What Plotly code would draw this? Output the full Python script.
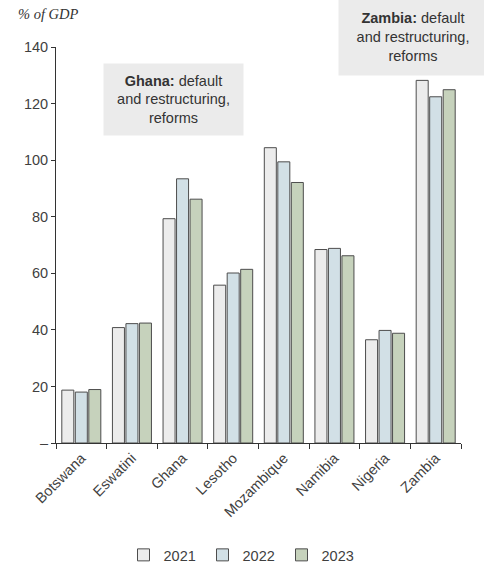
import plotly.graph_objects as go

countries = ["Botswana", "Eswatini", "Ghana", "Lesotho", "Mozambique", "Namibia", "Nigeria", "Zambia"]
years = ["2021", "2022", "2023"]
v2021 = [18.7, 40.8, 79.3, 55.8, 104.4, 68.4, 36.5, 128.2]
v2022 = [18.0, 42.2, 93.4, 60.1, 99.4, 68.8, 39.8, 122.4]
v2023 = [18.9, 42.4, 86.2, 61.4, 92.1, 66.2, 38.8, 124.9]
colors = ["#ececec", "#d2e0e6", "#c6d2bc"]
ytickvals = [0, 20, 40, 60, 80, 100, 120, 140]
yticktext = ["–", "20", "40", "60", "80", "100", "120", "140"]

fig = go.Figure()
for yr, vals, col in zip(years, [v2021, v2022, v2023], colors):
    fig.add_trace(go.Bar(
        x=countries, y=vals, name=yr,
        marker=dict(color=col, line=dict(color="#4d4d4d", width=1)),
    ))

font_family = "Liberation Sans, Arial, Helvetica, sans-serif"
fig.update_layout(
    width=484, height=568,
    margin=dict(l=56, r=23, t=47, b=125),
    paper_bgcolor="white", plot_bgcolor="white",
    barmode="group", bargap=0.2, bargroupgap=0.11,
    font=dict(family=font_family, size=14, color="#3f3f3f"),
    showlegend=True,
    legend=dict(orientation="h", xref="container", yref="container",
                x=0.5, xanchor="center", y=0.023, yanchor="middle",
                font=dict(size=14.5, color="#3f3f3f"), itemwidth=30,
                entrywidth=34, entrywidthmode="pixels",
                traceorder="normal", tracegroupgap=0),
    xaxis=dict(
        type="category", showline=True, linecolor="#333", linewidth=1,
        ticks="outside", ticklen=5, tickcolor="#333", tickson="boundaries",
        tickangle=-45, tickfont=dict(size=14.5, color="#3f3f3f"),
        showgrid=False, zeroline=False,
    ),
    yaxis=dict(
        range=[0, 140], tickvals=ytickvals, ticktext=yticktext,
        showline=True, linecolor="#333", linewidth=1,
        ticks="outside", ticklen=4, tickcolor="#333",
        tickfont=dict(size=14.5, color="#3f3f3f"),
        showgrid=False, zeroline=False,
    ),
)

fig.add_annotation(
    xref="paper", yref="paper", x=0.291, y=0.867, xanchor="center", yanchor="middle",
    text="<b>Ghana:</b> default<br>and restructuring,<br>reforms",
    showarrow=False, bgcolor="#ebebeb", width=137, height=69, align="center",
    font=dict(size=14.5, color="#333", family=font_family),
)
fig.add_annotation(
    xref="paper", yref="paper", x=0.882, y=1.025, xanchor="center", yanchor="middle",
    text="<b>Zambia:</b> default<br>and restructuring,<br>reforms",
    showarrow=False, bgcolor="#ebebeb", width=146, height=74, align="center",
    font=dict(size=14.5, color="#333", family=font_family),
)
fig.add_annotation(
    xref="paper", yref="paper", x=-0.1, y=1.083, xanchor="left", yanchor="middle",
    text="<i>% of GDP</i>", showarrow=False,
    font=dict(size=14.5, color="#333", family="Liberation Serif, Times New Roman, serif"),
)

fig.write_html("out.html")
